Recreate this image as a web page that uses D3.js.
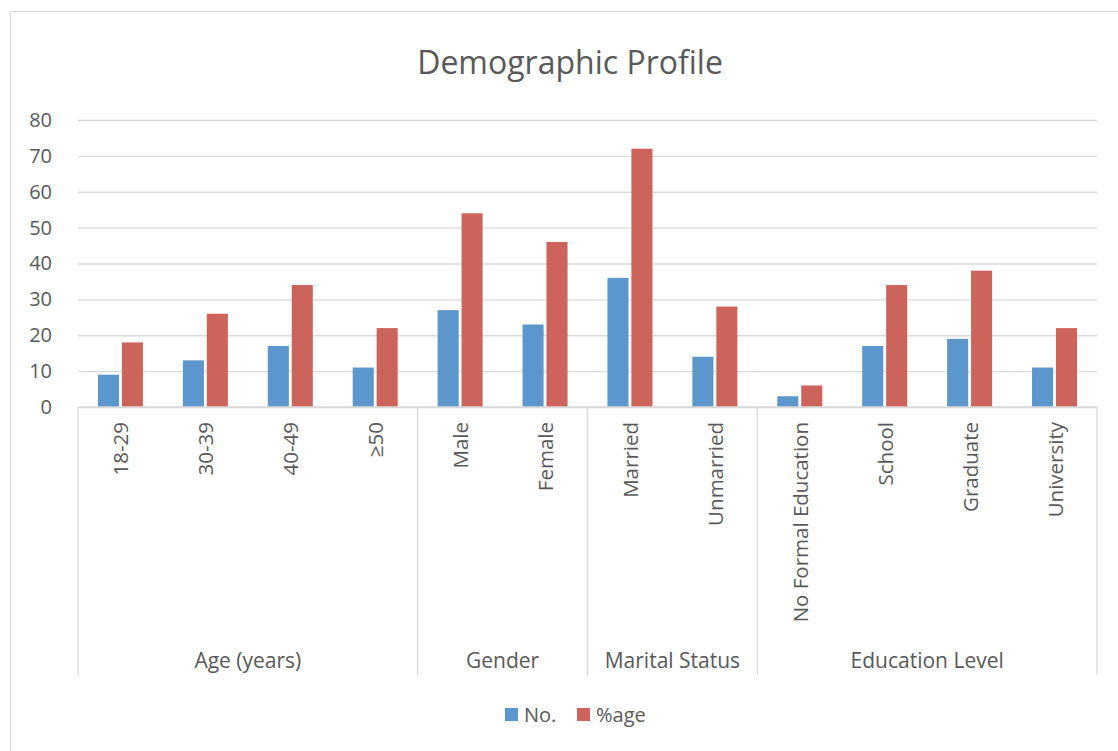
<!DOCTYPE html>
<html>
<head>
<meta charset="utf-8">
<script src="https://cdn.jsdelivr.net/npm/d3@7"></script>
<style>
  body { margin: 0; background: #fff; }
  text { font-family: "Open Sans", "Liberation Sans", sans-serif; fill: #595959; }
</style>
</head>
<body>
<div id="chart"></div>
<script>
// chart data
var categories = ["18-29", "30-39", "40-49", "\u226550", "Male", "Female", "Married", "Unmarried",
  "No Formal Education", "School", "Graduate", "University"];
var groups = ["Age (years)", "Gender", "Marital Status", "Education Level"];
var groupSizes = [4, 2, 2, 4];
var noValues = [9, 13, 17, 11, 27, 23, 36, 14, 3, 17, 19, 11];
var pctValues = [18, 26, 34, 22, 54, 46, 72, 28, 6, 34, 38, 22];
var seriesNames = ["No.", "%age"];
var yTicks = [0, 10, 20, 30, 40, 50, 60, 70, 80];

var width = 1118, height = 751;
var margin = {left: 78, right: 21, top: 120, bottom: 344};
var color = d3.scaleOrdinal().domain(seriesNames).range(["#5b97cc", "#cd645c"]);

var svg = d3.select('#chart')
  .append('svg')
  .attr('width', width)
  .attr('height', height);

// chart border
svg.append('rect')
  .attr('x', 10.5).attr('y', 11.5)
  .attr('width', width + 20).attr('height', height + 20)
  .attr('fill', 'none').attr('stroke', '#d9d9d9');

svg.append('text')
  .attr('x', 570).attr('y', 74)
  .attr('text-anchor', 'middle')
  .style('font-size', '32px')
  .text('Demographic Profile');

var x = d3.scaleBand()
  .domain(categories)
  .range([margin.left, width - margin.right]);
var y = d3.scaleLinear()
  .domain([0, 80])
  .range([height - margin.bottom, margin.top]);
var xs = d3.scaleBand()
  .domain(seriesNames)
  .range([x.bandwidth() * 0.235, x.bandwidth() * 0.765])
  .paddingInner(0.12);

// grid + y axis
var yAxis = svg.append('g')
  .attr('transform', 'translate(' + margin.left + ',0)')
  .call(d3.axisLeft(y).tickValues(yTicks).tickSize(-(width - margin.left - margin.right)));
yAxis.select('.domain').remove();
yAxis.selectAll('line').attr('stroke', '#d9d9d9').attr('stroke-width', 1.3);
yAxis.selectAll('text')
  .attr('x', -26)
  .attr('text-anchor', 'end')
  .style('font-size', '20px')
  .style('fill', '#595959');

// bars
var rows = categories.map(function (c, i) {
  return {key: c, values: [{s: "No.", v: noValues[i]}, {s: "%age", v: pctValues[i]}]};
});
var cat = svg.selectAll('.cat')
  .data(rows)
  .enter().append('g')
  .attr('class', 'cat')
  .attr('transform', function (d) { return 'translate(' + x(d.key) + ',0)'; });
cat.selectAll('rect')
  .data(function (d) { return d.values; })
  .enter().append('rect')
  .attr('x', function (d) { return xs(d.s); })
  .attr('width', xs.bandwidth())
  .attr('y', function (d) { return y(d.v); })
  .attr('height', function (d) { return y(0) - y(d.v); })
  .attr('fill', function (d) { return color(d.s); });

// category axis (two levels)
var y0 = y(0), axisBottom = 675;
svg.append('line')
  .attr('x1', margin.left).attr('x2', width - margin.right)
  .attr('y1', y0).attr('y2', y0)
  .attr('stroke', '#d9d9d9').attr('stroke-width', 1.3);

cat.append('text')
  .attr('transform', function () {
    return 'translate(' + (x.bandwidth() / 2 + 8) + ',' + (y0 + 15) + ') rotate(-90)';
  })
  .attr('text-anchor', 'end')
  .style('font-size', '20.5px')
  .text(function (d) { return d.key; });

var start = 0;
groups.forEach(function (g, i) {
  var first = categories[start], last = categories[start + groupSizes[i] - 1];
  var x0 = x(first), x1 = x(last) + x.bandwidth();
  svg.append('text')
    .attr('x', (x0 + x1) / 2).attr('y', 668)
    .attr('text-anchor', 'middle')
    .style('font-size', '21px')
    .text(g);
  start += groupSizes[i];
});
var sepX = [margin.left];
start = 0;
groupSizes.forEach(function (n) {
  start += n;
  sepX.push(x(categories[start - 1]) + x.bandwidth());
});
svg.selectAll('.sep')
  .data(sepX)
  .enter().append('line')
  .attr('class', 'sep')
  .attr('x1', function (d) { return d; }).attr('x2', function (d) { return d; })
  .attr('y1', y0).attr('y2', axisBottom)
  .attr('stroke', '#d9d9d9').attr('stroke-width', 1.3);

// legend
var legend = svg.selectAll('.legend')
  .data(seriesNames)
  .enter().append('g')
  .attr('class', 'legend')
  .attr('transform', function (d, i) { return 'translate(' + (505 + i * 72) + ',708)'; });
legend.append('rect')
  .attr('width', 13).attr('height', 13)
  .attr('fill', function (d) { return color(d); });
legend.append('text')
  .attr('x', 19).attr('y', 14)
  .style('font-size', '20px')
  .text(function (d) { return d; });
</script>
</body>
</html>
